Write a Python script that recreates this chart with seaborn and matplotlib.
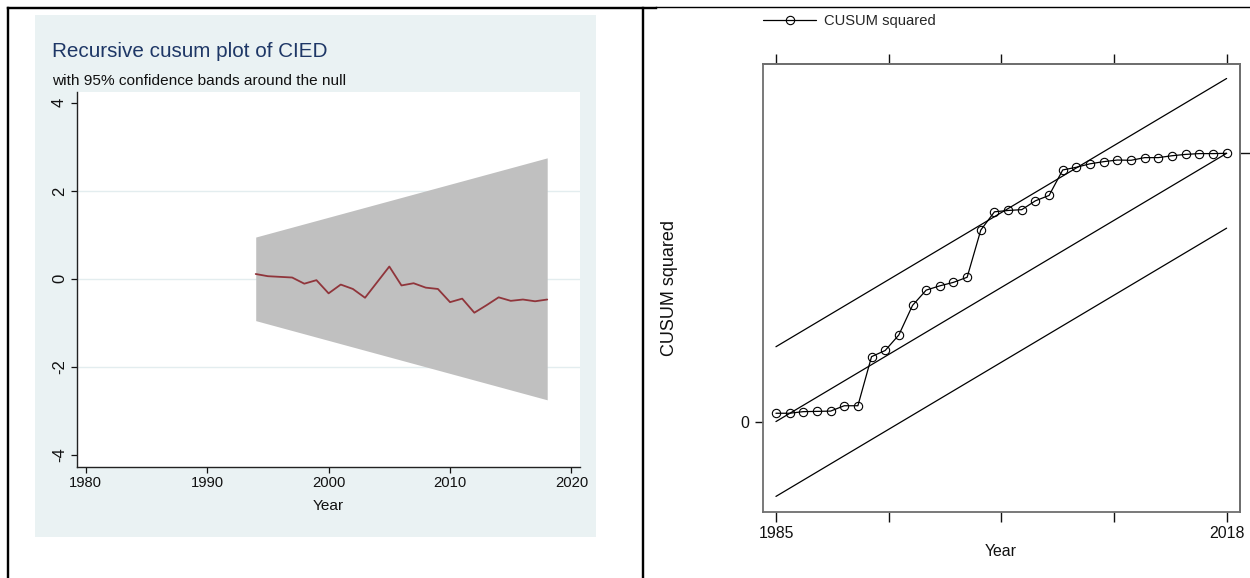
import numpy as np
import matplotlib
matplotlib.use('Agg')
import matplotlib.pyplot as plt
import seaborn as sns
from matplotlib import font_manager
from matplotlib.lines import Line2D
from matplotlib.patches import Rectangle

sns.set_style('ticks')

# fonts: narrow face for horizontal text if present, regular for rotated text
installed = {f.name for f in font_manager.fontManager.ttflist}
has_narrow = 'Liberation Sans Narrow' in installed
narrow = 'Liberation Sans Narrow' if has_narrow else 'Liberation Sans'
plt.rcParams['font.family'] = [narrow, 'DejaVu Sans']
regular = ['Liberation Sans', 'DejaVu Sans']
# the reference text is condensed; without a narrow face shrink sizes to keep widths
k = 1.0 if has_narrow else 0.85

# ---- data: recursive cusum (left panel)
cusum_years = [1994, 1995, 1996, 1997, 1998, 1999, 2000, 2001, 2002, 2003, 2004, 2005, 2006,
               2007, 2008, 2009, 2010, 2011, 2012, 2013, 2014, 2015, 2016, 2017, 2018]
cusum_values = [0.11, 0.06, 0.045, 0.03, -0.11, -0.03, -0.33, -0.13, -0.23, -0.43, -0.075, 0.28, -0.15,
                -0.10, -0.20, -0.23, -0.53, -0.45, -0.77, -0.60, -0.42, -0.50, -0.47, -0.51, -0.47]
band_years = [1994, 2018]
band_upper = [0.95, 2.75]
band_lower = [-0.95, -2.75]
left_xticks = [1980, 1990, 2000, 2010, 2020]
left_yticks = [-4, -2, 0, 2, 4]

# ---- data: cusum squared (right panel)
sq_years = list(range(1985, 2019))
sq_values = [0.031, 0.031, 0.037, 0.038, 0.039, 0.059, 0.059, 0.242, 0.265, 0.323, 0.433, 0.490,
             0.506, 0.519, 0.538, 0.714, 0.782, 0.787, 0.790, 0.823, 0.843, 0.938, 0.948, 0.961,
             0.969, 0.975, 0.974, 0.984, 0.984, 0.991, 0.996, 0.999, 0.999, 1.000]
line_years = [1985, 2018]
expected = [0.0, 1.0]
upper = [0.279, 1.279]
lower = [-0.279, 0.721]

W, H = 1250, 578
fig = plt.figure(figsize=(W / 100, H / 100), dpi=100)
fig.patch.set_facecolor('white')

def fx(px):
    return px / W

def fy(py):
    return 1 - py / H

# stata-like light blue background for left graph
fig.add_artist(Rectangle((fx(35), fy(537.3)), fx(596 - 35), (537.3 - 15) / H,
                         transform=fig.transFigure, facecolor='#EAF2F3', edgecolor='none', zorder=-1))

# ---- left panel
ax1 = fig.add_axes([fx(76.7), fy(466.7), fx(580 - 76.7), (466.7 - 92.3) / H])
ax1.set_facecolor('white')
for y in [-2, 0, 2]:
    ax1.axhline(y, color='#E3EDEF', lw=1, zorder=0)
ax1.fill_between(band_years, band_lower, band_upper, color='#C0C0C0', lw=0, zorder=1)
sns.lineplot(x=cusum_years, y=cusum_values, ax=ax1, color='#90353B', linewidth=1.3, zorder=2)
ax1.set_xlim(1979.26, 2020.7)
ax1.set_ylim(-4.27, 4.24)
ax1.set_xticks(left_xticks)
ax1.set_yticks(left_yticks)
ax1.set_yticklabels([str(v) for v in left_yticks], rotation=90, va='center',
                    fontsize=12, family=regular)
ax1.tick_params(axis='x', labelsize=12.5 * k, length=4, width=0.9, pad=3, colors='#111111')
ax1.tick_params(axis='y', length=4, width=0.9, pad=3, colors='#111111')
for s in ['top', 'right']:
    ax1.spines[s].set_visible(False)
for s in ['left', 'bottom']:
    ax1.spines[s].set_color('#222222')
    ax1.spines[s].set_linewidth(1.0)
ax1.set_xlabel('')
ax1.set_ylabel('')
fig.text(fx(328), fy(506), 'Year', ha='center', va='center', fontsize=13 * k, color='#111111')
fig.text(fx(52), fy(57), 'Recursive cusum plot of CIED', ha='left', va='baseline',
         fontsize=17.5 * k, color='#1E3766')
fig.text(fx(52), fy(85), 'with 95% confidence bands around the null', ha='left', va='baseline',
         fontsize=13 * k, color='#111111')

# ---- right panel
ax2 = fig.add_axes([fx(762.7), fy(511.7), fx(1240 - 762.7), (511.7 - 64) / H])
ax2.set_facecolor('white')
sns.lineplot(x=line_years, y=upper, ax=ax2, color='black', linewidth=0.9)
sns.lineplot(x=line_years, y=expected, ax=ax2, color='black', linewidth=0.9)
sns.lineplot(x=line_years, y=lower, ax=ax2, color='black', linewidth=0.9)
sns.lineplot(x=sq_years, y=sq_values, ax=ax2, color='black', linewidth=0.9, marker='o',
             markersize=6, markerfacecolor='none', markeredgecolor='black', markeredgewidth=0.8,
             label='CUSUM squared')
ax2.set_xlim(1984.03, 2018.98)
ax2.set_ylim(-0.336, 1.333)
qticks = np.linspace(1985, 2018, 5)
ax2.set_xticks(qticks)
ax2.set_xticklabels(['1985', '', '', '', '2018'])
ax2.set_yticks([0])
ax2.set_yticklabels(['0'])
ax2.tick_params(axis='x', direction='out', length=7, width=1, pad=3, labelsize=13.5 * k, colors='#111111')
ax2.tick_params(axis='y', direction='out', length=6, width=1, pad=4, labelsize=13.5 * k, colors='#111111')
top = ax2.secondary_xaxis('top')
top.set_xticks(qticks)
top.set_xticklabels([])
top.tick_params(direction='out', length=7, width=1, colors='#111111')
right = ax2.secondary_yaxis('right')
right.set_yticks([1])
right.set_yticklabels([])
right.tick_params(direction='out', length=8, width=1, colors='#111111')
for a in [ax2, top, right]:
    for s in a.spines.values():
        s.set_color('#6E6E6E')
        s.set_linewidth(1.3)
ax2.set_xlabel('')
ax2.set_ylabel('')
fig.text(fx(1001), fy(551), 'Year', ha='center', va='center', fontsize=13.5 * k, color='#111111')
fig.text(fx(670), fy(288), 'CUSUM squared', ha='center', va='center', rotation=90,
         fontsize=13, family=regular, color='#111111')
ax2.legend(loc='center left', bbox_to_anchor=(fx(763), fy(21)), bbox_transform=fig.transFigure,
           frameon=False, borderpad=0, borderaxespad=0, handlelength=3.6, handletextpad=0.5,
           fontsize=12.5 * k)

# table borders around the two graphs
for xs, ys, lw in [([8.3, 656], [7.5, 7.5], 2.4), ([656, 1250], [6.8, 6.8], 1.4),
                   ([8.3, 8.3], [7.5, 578], 2.4), ([643.3, 643.3], [7.5, 578], 2.4)]:
    fig.add_artist(Line2D([fx(x) for x in xs], [fy(y) for y in ys], transform=fig.transFigure,
                          color='black', lw=lw * 0.72, solid_capstyle='projecting', zorder=10))

fig.savefig('out.png', dpi=100)
